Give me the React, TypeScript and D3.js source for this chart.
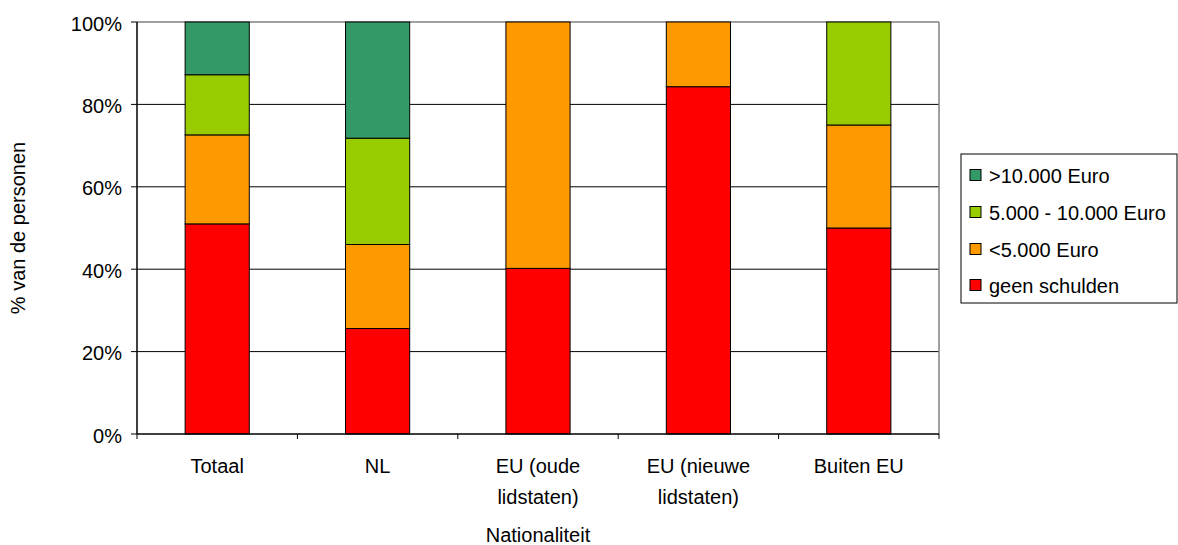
import React from "react";
import * as d3 from "d3";

const categories = [["Totaal"], ["NL"], ["EU (oude", "lidstaten)"], ["EU (nieuwe", "lidstaten)"], ["Buiten EU"]];
const seriesNames = ["geen schulden", "<5.000 Euro", "5.000 - 10.000 Euro", ">10.000 Euro"];
const seriesColors = ["#FF0000", "#FF9900", "#99CC00", "#339966"];
const geenSchulden = [51, 25.6, 40.2, 84.3, 50];
const minder5000 = [21.6, 20.4, 59.8, 15.7, 25];
const tussen5000en10000 = [14.6, 25.8, 0, 0, 25];
const meer10000 = [12.8, 28.2, 0, 0, 0];
const yTicks = [0, 20, 40, 60, 80, 100];

const W = 1178, H = 545;
const plot = { left: 137, right: 939, top: 22, bottom: 434 };
const FONT = "'Liberation Sans', Arial, sans-serif";

export default function App() {
  const keys = categories.map((c) => c.join(" "));
  const x = d3.scaleBand<string>().domain(keys).range([plot.left, plot.right]).paddingInner(0.6).paddingOuter(0.3);
  const y = d3.scaleLinear().domain([0, 100]).range([plot.bottom, plot.top]);
  const rows = keys.map((k, i) => ({
    key: k,
    s0: geenSchulden[i], s1: minder5000[i], s2: tussen5000en10000[i], s3: meer10000[i],
  }));
  const stack = d3.stack<any>().keys(["s0", "s1", "s2", "s3"])(rows);
  const step = x.step();
  const catTicks = d3.range(keys.length + 1).map((i) => plot.left + i * step);

  const legendX = 961, legendY = 154, legendW = 216, legendH = 149;
  const legendOrder = [3, 2, 1, 0];
  const legendRowY = [175, 212, 249, 285];

  return (
    <svg width={W} height={H} style={{ position: "absolute", left: 0, top: 0, background: "#fff" }} fontFamily={FONT}>
      <rect x={0} y={0} width={W} height={H} fill="#fff" />
      {/* gridlines */}
      {yTicks.filter((t) => t > 0 && t < 100).map((t) => (
        <line key={t} x1={plot.left} x2={plot.right} y1={y(t)} y2={y(t)} stroke="#000" strokeWidth={1} />
      ))}
      <line x1={plot.left} x2={plot.right} y1={y(100)} y2={y(100)} stroke="#808080" strokeWidth={1.5} />
      <line x1={plot.right} x2={plot.right} y1={y(100)} y2={y(0)} stroke="#808080" strokeWidth={1.5} />
      {/* bars */}
      {stack.map((layer, li) => (
        <g key={li}>
          {layer.map((d, i) => {
            const h = y(d[0]) - y(d[1]);
            if (h <= 0.01) return null;
            return (
              <rect key={i} x={x(keys[i])!} y={y(d[1])} width={x.bandwidth()} height={h}
                fill={seriesColors[li]} stroke="#000" strokeWidth={1} />
            );
          })}
        </g>
      ))}
      {/* axes */}
      <line x1={plot.left} x2={plot.left} y1={plot.top} y2={plot.bottom} stroke="#000" strokeWidth={1.5} />
      <line x1={plot.left} x2={plot.right} y1={plot.bottom} y2={plot.bottom} stroke="#000" strokeWidth={1.5} />
      {yTicks.map((t) => (
        <g key={t}>
          <line x1={plot.left - 6} x2={plot.left} y1={y(t)} y2={y(t)} stroke="#000" strokeWidth={1} />
          <text x={122} y={y(t)} dy={8.5} textAnchor="end" fontSize={20} fill="#000">{t}%</text>
        </g>
      ))}
      {catTicks.map((cx, i) => (
        <line key={i} x1={cx} x2={cx} y1={plot.bottom} y2={plot.bottom + 5} stroke="#000" strokeWidth={1} />
      ))}
      {categories.map((lines, i) => (
        <text key={i} x={x(keys[i])! + x.bandwidth() / 2} y={473} textAnchor="middle" fontSize={20} fill="#000">
          {lines.map((l, j) => (
            <tspan key={j} x={x(keys[i])! + x.bandwidth() / 2} dy={j === 0 ? 0 : 31}>{l}</tspan>
          ))}
        </text>
      ))}
      <text x={(plot.left + plot.right) / 2} y={542} textAnchor="middle" fontSize={20} fill="#000">Nationaliteit</text>
      <text transform={`translate(25, ${(plot.top + plot.bottom) / 2}) rotate(-90)`} textAnchor="middle" fontSize={20} fill="#000">% van de personen</text>
      {/* legend */}
      <rect x={legendX} y={legendY} width={legendW} height={legendH} fill="#fff" stroke="#000" strokeWidth={1} />
      {legendOrder.map((si, r) => (
        <g key={si}>
          <rect x={970} y={legendRowY[r] - 5.5} width={11} height={11} fill={seriesColors[si]} stroke="#000" strokeWidth={1} />
          <text x={989} y={legendRowY[r]} dy={7.5} fontSize={20} fill="#000">{seriesNames[si]}</text>
        </g>
      ))}
    </svg>
  );
}
